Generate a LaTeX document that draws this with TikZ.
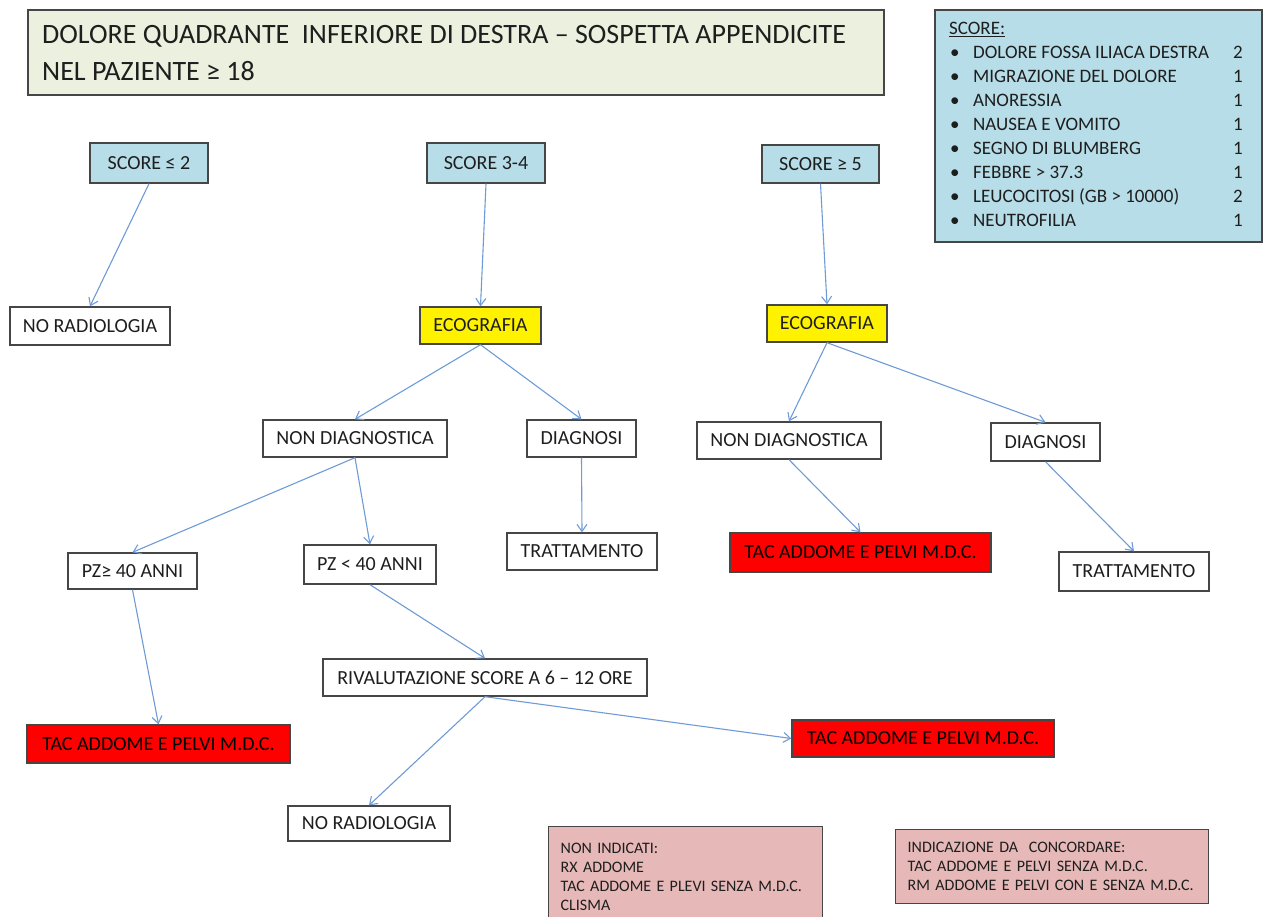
\documentclass[tikz,border=0pt]{standalone}
\usepackage{fontspec}
\setmainfont{Carlito}
\newfontfamily\notefont[WordSpace=0.6]{Carlito}
\usetikzlibrary{arrows.meta}
\definecolor{lblue}{RGB}{183,221,232}
\definecolor{tgreen}{RGB}{235,241,222}
\definecolor{pinkb}{RGB}{230,185,184}
\definecolor{edgeg}{RGB}{70,70,70}
\definecolor{arrowc}{RGB}{110,155,215}
\definecolor{txt}{RGB}{30,30,30}
\begin{document}
\begin{tikzpicture}[x=1pt,y=-1pt,
  box/.style={draw=edgeg,line width=1.4pt,inner sep=0pt,text=txt,font=\fontsize{20}{24}\selectfont},
  whitebox/.style={box,fill=white},
  bluebox/.style={box,fill=lblue},
  yellowbox/.style={box,fill=yellow},
  redbox/.style={box,fill=red,text=black},
  pinkbox/.style={box,fill=pinkb,align=left,font=\notefont\fontsize{16}{19}\selectfont},
  conn/.style={draw=arrowc,line width=1.1pt,-{Straight Barb[length=7pt,width=10pt]}}
]
\useasboundingbox (0,0) rectangle (1266,917);
\clip (0,0) rectangle (1266,917);
% title
\node[box,fill=tgreen,minimum width=856pt,minimum height=85pt] (title) at (456,52.5) {};
\node[anchor=west,align=left,text=txt,font=\fontsize{28}{37}\selectfont,inner sep=0pt] (titletext) at (42,53) {DOLORE QUADRANTE\ \ INFERIORE DI DESTRA -- SOSPETTA APPENDICITE\\NEL PAZIENTE ≥ 18};
% score legend
\node[box,fill=lblue,minimum width=327pt,minimum height=232pt] (legend) at (1098.5,126) {};
\node[anchor=north west,inner sep=0pt,text=txt,font=\fontsize{19}{24}\selectfont] (legendtext) at (949,18) {%
\begin{tabular}{@{}p{24pt}@{}p{260pt}@{}l@{}}
\multicolumn{3}{@{}l}{\underline{SCORE:}}\\
\hspace{1pt}\textbullet & DOLORE FOSSA ILIACA DESTRA & 2\\
\hspace{1pt}\textbullet & MIGRAZIONE DEL DOLORE & 1\\
\hspace{1pt}\textbullet & ANORESSIA & 1\\
\hspace{1pt}\textbullet & NAUSEA E VOMITO & 1\\
\hspace{1pt}\textbullet & SEGNO DI BLUMBERG & 1\\
\hspace{1pt}\textbullet & FEBBRE > 37.3 & 1\\
\hspace{1pt}\textbullet & LEUCOCITOSI (GB > 10000) & 2\\
\hspace{1pt}\textbullet & NEUTROFILIA & 1
\end{tabular}};
% score nodes
\node[bluebox,minimum width=118pt,minimum height=40pt] (s1) at (149,163) {SCORE ≤ 2};
\node[bluebox,minimum width=118pt,minimum height=40pt] (s2) at (486,163) {SCORE 3-4};
\node[bluebox,minimum width=117pt,minimum height=38pt] (s3) at (820.5,164) {SCORE ≥ 5};
% level 2
\node[whitebox,minimum width=160pt,minimum height=38pt] (nr1) at (90,326) {NO RADIOLOGIA};
\node[yellowbox,minimum width=121pt,minimum height=37pt] (eco1) at (480.5,325.5) {ECOGRAFIA};
\node[yellowbox,minimum width=120pt,minimum height=37pt] (eco2) at (827,323.5) {ECOGRAFIA};
% level 3
\node[whitebox,minimum width=184pt,minimum height=37pt] (nd1) at (355,438.5) {NON DIAGNOSTICA};
\node[whitebox,minimum width=109pt,minimum height=37pt] (dg1) at (581.5,438.5) {DIAGNOSI};
\node[whitebox,minimum width=184pt,minimum height=37pt] (nd2) at (789,440.5) {NON DIAGNOSTICA};
\node[whitebox,minimum width=109pt,minimum height=38pt] (dg2) at (1045.5,442) {DIAGNOSI};
% level 4
\node[whitebox,minimum width=129pt,minimum height=36pt] (pz1) at (132.5,571) {PZ≥ 40 ANNI};
\node[whitebox,minimum width=132pt,minimum height=39pt] (pz2) at (370,564.5) {PZ < 40 ANNI};
\node[whitebox,minimum width=150pt,minimum height=37pt] (tr1) at (582,551.5) {TRATTAMENTO};
\node[redbox,minimum width=261pt,minimum height=39pt] (tac1) at (860.5,552.5) {TAC ADDOME E PELVI M.D.C.};
\node[whitebox,minimum width=150pt,minimum height=39pt] (tr2) at (1134,571.5) {TRATTAMENTO};
% level 5
\node[whitebox,minimum width=324pt,minimum height=37pt] (riv) at (485,677.5) {RIVALUTAZIONE SCORE A 6 -- 12 ORE};
\node[redbox,minimum width=263pt,minimum height=38pt] (tacL) at (158.5,744) {TAC ADDOME E PELVI M.D.C.};
\node[redbox,minimum width=262pt,minimum height=37pt] (tacR) at (923,738.5) {TAC ADDOME E PELVI M.D.C.};
\node[whitebox,minimum width=162pt,minimum height=35pt] (nr2) at (369,823.5) {NO RADIOLOGIA};
% notes
\node[pinkbox,anchor=north west,minimum width=274pt,minimum height=100pt,text width=250pt,inner xsep=12pt,inner ysep=2pt] (ni) at (548,826) {NON INDICATI:\\RX ADDOME\\TAC ADDOME E PLEVI SENZA M.D.C.\\CLISMA};
\node[pinkbox,anchor=north west,minimum width=313pt,minimum height=74pt,text width=289pt,inner xsep=12pt,inner ysep=7pt] (ind) at (895,829) {INDICAZIONE DA\ \ CONCORDARE:\\TAC ADDOME E PELVI SENZA M.D.C.\\RM ADDOME E PELVI CON E SENZA M.D.C.};
% connectors
\draw[conn] (s1.south) -- (nr1.north);
\draw[conn] (s2.south) -- (eco1.north);
\draw[conn] (s3.south) -- (eco2.north);
\draw[conn] (eco1.south) -- (nd1.north);
\draw[conn] (eco1.south) -- (dg1.north);
\draw[conn] (eco2.south) -- (nd2.north);
\draw[conn] (eco2.south) -- (dg2.north);
\draw[conn] (nd1.south) -- (pz1.north);
\draw[conn] (nd1.south) -- (pz2.north);
\draw[conn] (dg1.south) -- (tr1.north);
\draw[conn] (nd2.south) -- (tac1.north);
\draw[conn] (dg2.south) -- (tr2.north);
\draw[conn] (pz1.south) -- (tacL.north);
\draw[conn] (pz2.south) -- (riv.north);
\draw[conn] (riv.south) -- (nr2.north);
\draw[conn] (riv.south) -- (tacR.west);
\end{tikzpicture}
\end{document}
